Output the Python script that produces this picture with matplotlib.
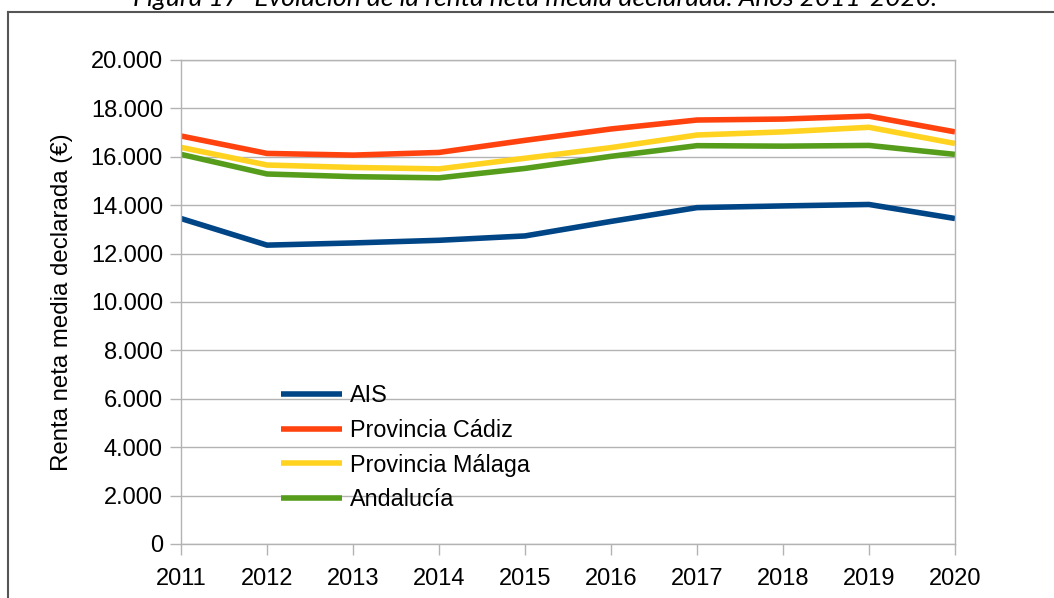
import matplotlib
matplotlib.use('Agg')
import matplotlib.pyplot as plt
from matplotlib.ticker import FuncFormatter
from matplotlib.lines import Line2D

# data
years = [2011, 2012, 2013, 2014, 2015, 2016, 2017, 2018, 2019, 2020]
ais = [13450, 12350, 12440, 12550, 12730, 13330, 13900, 13970, 14030, 13450]
cadiz = [16860, 16140, 16070, 16180, 16680, 17150, 17520, 17560, 17680, 17030]
malaga = [16390, 15660, 15560, 15500, 15940, 16380, 16900, 17030, 17220, 16550]
andalucia = [16100, 15290, 15180, 15130, 15520, 16020, 16460, 16440, 16470, 16100]

series_names = ['AIS', 'Provincia Cádiz', 'Provincia Málaga', 'Andalucía']
series_colors = ['#004586', '#ff420e', '#ffd320', '#579d1c']

plt.rcParams['font.family'] = ['Liberation Sans', 'DejaVu Sans']

fig = plt.figure(figsize=(10.54, 5.98), dpi=100)
ax = fig.add_axes([181 / 1054, 1 - 544 / 598, 774 / 1054, 484 / 598])

for vals, name, col in zip([ais, cadiz, malaga, andalucia], series_names, series_colors):
    ax.plot(years, vals, color=col, lw=4, label=name, solid_capstyle='butt', solid_joinstyle='round')

ax.set_xlim(2011, 2020)
ax.set_ylim(0, 20000)
ax.set_xticks(years)
ax.set_yticks(range(0, 20001, 2000))
ax.yaxis.set_major_formatter(FuncFormatter(lambda v, p: f'{int(v):,}'.replace(',', '.')))
ax.grid(axis='y', color='#b3b3b3', lw=1)
ax.set_axisbelow(True)
for s in ax.spines.values():
    s.set_color('#b3b3b3')
    s.set_linewidth(1)
ax.tick_params(axis='both', colors='#b3b3b3', labelcolor='black', labelsize=17, length=8, width=1)
ax.tick_params(axis='y', pad=5)
ax.tick_params(axis='x', pad=9)

ax.set_ylabel('Renta neta media declarada (€)', fontsize=17.3, labelpad=13)

ax.legend(loc='center left', bbox_to_anchor=(0.117, 0.199), frameon=False, fontsize=16.8,
          handlelength=2.6, handletextpad=0.35, labelspacing=0.5, borderaxespad=0)

# outer chart frame (cut off at right and bottom)
fig.add_artist(Line2D([8 / 1054, 8 / 1054], [0, 1 - 12 / 598], color='#555555', lw=1.5))
fig.add_artist(Line2D([8 / 1054, 1], [1 - 12 / 598, 1 - 12 / 598], color='#555555', lw=1.5))

fig.text(535 / 1054, 1 - 6 / 598, 'Figura 17- Evolución de la renta neta media declarada. Años 2011-2020.',
         ha='center', va='baseline', fontsize=19, style='italic', family=['Lato', 'DejaVu Sans'])

fig.savefig('out.png', dpi=100)
